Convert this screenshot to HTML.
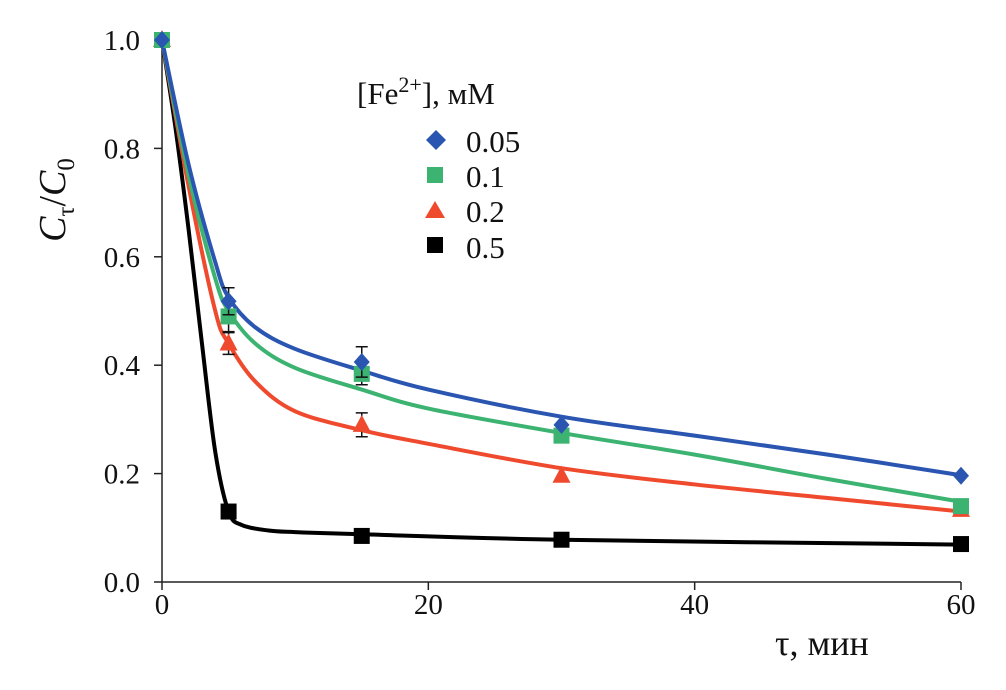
<!DOCTYPE html>
<html><head><meta charset="utf-8">
<style>
body{margin:0;background:#fff;}
svg text{font-family:"Liberation Serif",serif;fill:#111;}
</style></head>
<body>
<svg id="chart" width="1006" height="685" viewBox="0 0 1006 685">
<g id="axes"></g><g id="curves"></g><g id="marks"></g>
<g>
<text x="357" y="104" font-size="31">[Fe<tspan dy="-12" font-size="22">2+</tspan><tspan dy="12">], мМ</tspan></text>
<polygon points="436,130 446,140 436,150 426,140" fill="#2a55b0"/>
<text x="466" y="152" font-size="31">0.05</text>
<rect x="427" y="167" width="16" height="16" fill="#3cb371"/>
<text x="466" y="187" font-size="31">0.1</text>
<polygon points="435,201 445,218 425,218" fill="#f04a2e"/>
<text x="466" y="222" font-size="31">0.2</text>
<rect x="427" y="237" width="16" height="16" fill="#000"/>
<text x="466" y="258" font-size="31">0.5</text>
</g>
<text x="775" y="655" font-size="36">τ, мин</text>
<text transform="translate(65,200) rotate(-90)" font-size="38" text-anchor="middle"><tspan font-style="italic">C</tspan><tspan dy="9" font-size="25">τ</tspan><tspan dy="-9">/</tspan><tspan font-style="italic">C</tspan><tspan dy="9" font-size="25">0</tspan></text>
</svg>
<script>
const xTicks=[0,20,40,60];
const yTicks=["0.0","0.2","0.4","0.6","0.8","1.0"];
const ptX=[0,5,15,30,60];
const blueY=[1.0,0.518,0.406,0.29,0.196];
const greenY=[1.0,0.49,0.384,0.27,0.14];
const redY=[1.0,0.44,0.29,0.196,0.133];
const blackY=[1.0,0.13,0.085,0.078,0.07];
const blueErr=[0,0.025,0.028,0,0];
const greenErr=[0,0.028,0.02,0,0];
const redErr=[0,0.02,0.022,0,0];
const fitBlueX=[0,2,4,5,7,10,15,20,30,40,50,60];
const fitBlueY=[1.0,0.77,0.59,0.525,0.47,0.43,0.39,0.355,0.305,0.27,0.235,0.197];
const fitGreenX=[0,2,4,5,7,10,15,20,30,40,50,60];
const fitGreenY=[1.0,0.75,0.56,0.5,0.44,0.395,0.355,0.32,0.275,0.235,0.19,0.148];
const fitRedX=[0,2,4,5,7,10,15,20,30,40,50,60];
const fitRedY=[1.0,0.73,0.5,0.44,0.37,0.315,0.28,0.255,0.21,0.18,0.155,0.13];
const fitBlackX=[0,1,2,3,4,5,6,8,10,15,30,60];
const fitBlackY=[1.0,0.84,0.65,0.44,0.24,0.13,0.105,0.095,0.092,0.088,0.078,0.069];

const NS="http://www.w3.org/2000/svg";
const X=v=>162+v*(961-162)/60;
const Y=v=>582-v*542;
function mk(tag,attrs,parent){const e=document.createElementNS(NS,tag);for(const k in attrs)e.setAttribute(k,attrs[k]);document.getElementById(parent).appendChild(e);return e;}

let e=mk('line',{x1:162,y1:40,x2:162,y2:582,stroke:'#222','stroke-width':1.5},'axes');


e=mk('line',{x1:162,y1:582,x2:961,y2:582,stroke:'#222','stroke-width':1.5},'axes');


yTicks.forEach(t=>{const y=Y(+t);
 let l=mk('line',{x1:154,y1:y,x2:162,y2:y,stroke:'#222','stroke-width':1.5},'axes');
 
 
 let tx=mk('text',{x:140,y:y+10,'font-size':29,'text-anchor':'end'},'axes');tx.textContent=t;
 
 
});
xTicks.forEach(t=>{const x=X(t);
 let l=mk('line',{x1:x,y1:582,x2:x,y2:590,stroke:'#222','stroke-width':1.5},'axes');
 
 
 let tx=mk('text',{x:x,y:614,'font-size':29,'text-anchor':'middle'},'axes');tx.textContent=t;
 
 
});
function path(xs,ys){const p=xs.map((x,i)=>[X(x),Y(ys[i])]);let d=`M${p[0][0]},${p[0][1]}`;
 for(let i=0;i<p.length-1;i++){const p0=p[i-1]||p[i],p1=p[i],p2=p[i+1],p3=p[i+2]||p2;
 d+=` C${p1[0]+(p2[0]-p0[0])/6},${p1[1]+(p2[1]-p0[1])/6} ${p2[0]-(p3[0]-p1[0])/6},${p2[1]-(p3[1]-p1[1])/6} ${p2[0]},${p2[1]}`;}return d;}
const series=[
 {n:'0.05',c:'#2a55b0',fx:fitBlueX,fy:fitBlueY,y:blueY,err:blueErr,m:'d'},
 {n:'0.1',c:'#3cb371',fx:fitGreenX,fy:fitGreenY,y:greenY,err:greenErr,m:'s'},
 {n:'0.2',c:'#f04a2e',fx:fitRedX,fy:fitRedY,y:redY,err:redErr,m:'t'},
 {n:'0.5',c:'#000',fx:fitBlackX,fy:fitBlackY,y:blackY,err:null,m:'s'}];
[...series].reverse().forEach(s=>{
 let p=mk('path',{d:path(s.fx,s.fy),fill:'none',stroke:s.c,'stroke-width':4},'curves');
 
 
});
[...series].reverse().forEach(s=>{
 ptX.forEach((xv,i)=>{const x=X(xv),y=Y(s.y[i]);
  if(s.err&&s.err[i]){const t=Y(s.y[i]+s.err[i]),b=Y(s.y[i]-s.err[i]);
   let g=mk('path',{d:`M${x},${t}V${b}M${x-6},${t}H${x+6}M${x-6},${b}H${x+6}`,stroke:'#111','stroke-width':1.5,fill:'none'},'marks');
   
   }
  let m;
  if(s.m==='d')m=mk('polygon',{points:`${x},${y-9} ${x+8},${y} ${x},${y+9} ${x-8},${y}`,fill:s.c},'marks');
  else if(s.m==='t')m=mk('polygon',{points:`${x},${y-10} ${x+9},${y+7} ${x-9},${y+7}`,fill:s.c},'marks');
  else m=mk('rect',{x:x-8,y:y-8,width:16,height:16,fill:s.c},'marks');
  
  
 });
});
</script>
</body></html>
